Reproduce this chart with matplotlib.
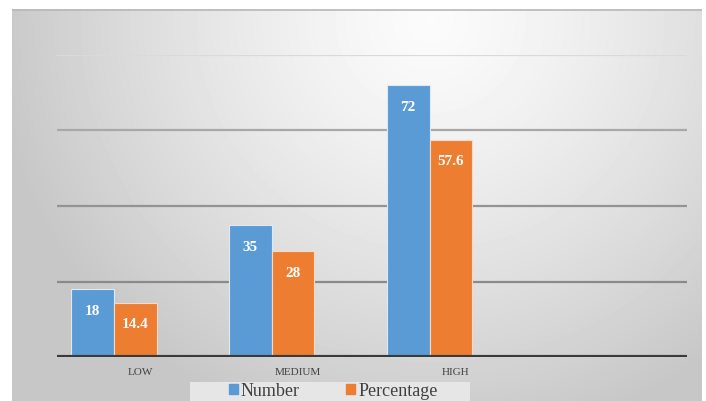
import numpy as np
import matplotlib.pyplot as plt
from matplotlib.patches import Patch, Rectangle

categories = ['LOW', 'MEDIUM', 'HIGH']
number = [18, 35, 72]
percentage = [14.4, 28, 57.6]

W, H = 706, 401
fig = plt.figure(figsize=(W / 100, H / 100), dpi=100)
fig.patch.set_facecolor('white')

# gradient background of the chart area
bg = fig.add_axes([12 / W, 0, (702 - 12) / W, (H - 9) / H])
bg.set_axis_off()
yy, xx = np.mgrid[9:H, 12:702]
d = np.sqrt(((xx - 430) / 430.0) ** 2 + ((yy - 20) / 420.0) ** 2)
shade = np.clip(0.985 - 0.2 * d ** 1.3, 0.78, 1.0)
bg.imshow(shade, cmap='gray', vmin=0, vmax=1, aspect='auto', interpolation='bilinear')
bg.plot([0, shade.shape[1] - 1], [0, 0], color='#b8b8b8', lw=1.2)

ax = fig.add_axes([57 / W, 1 - 357 / H, (687 - 57) / W, (357 - 55) / H])
ax.patch.set_alpha(0)
for s in ax.spines.values():
    s.set_visible(False)
ax.set_xlim(-0.358, 3.63)
ax.set_ylim(0, 80)
ax.set_yticks([])
ax.set_xticks([])

grid_cols = {20: '#8a8a8a', 40: '#939393', 60: '#a8a8a8', 80: '#dadada'}
for v, c in grid_cols.items():
    ax.axhline(v, color=c, lw=1.6, zorder=1)

x = np.arange(len(categories))
w = 0.272
b1 = ax.bar(x - w / 2, number, w, color='#5b9bd5', edgecolor='#dfe9f3', lw=0.8, zorder=2)
b2 = ax.bar(x + w / 2, percentage, w, color='#ed7d31', edgecolor='#f6dac8', lw=0.8, zorder=2)
ax.axhline(0, color='#3a3a3a', lw=3, zorder=3)

for bars, vals in ((b1, number), (b2, percentage)):
    for r, v in zip(bars, vals):
        ax.annotate(f'{v:g}', (r.get_x() + r.get_width() / 2, v), xytext=(0, -16),
                    textcoords='offset points', ha='center', va='center',
                    color='white', fontsize=11, fontweight='bold', family='Liberation Serif')

for xi, lab in zip(x, categories):
    ax.annotate(lab, (xi, 0), xytext=(19, -11), textcoords='offset points',
                ha='center', va='center', fontsize=8, color='#404040',
                family='Liberation Serif')

# legend band
fig.patches.append(Rectangle((190 / W, 0), 280 / W, 19 / H, transform=fig.transFigure,
                             facecolor='#e6e6e6', edgecolor='none', zorder=0))
handles = [Patch(color='#5b9bd5', label='Number'), Patch(color='#ed7d31', label='Percentage')]
leg = fig.legend(handles=handles, loc='center', bbox_to_anchor=(333 / W, 1 - 391 / H),
                 ncol=2, frameon=False, handlelength=0.5, handleheight=0.5, handletextpad=0.15,
                 columnspacing=2.6, borderpad=0.1,
                 prop={'family': 'Liberation Serif', 'size': 13})
for t in leg.get_texts():
    t.set_color('#404040')

fig.savefig('out.png', dpi=100)
